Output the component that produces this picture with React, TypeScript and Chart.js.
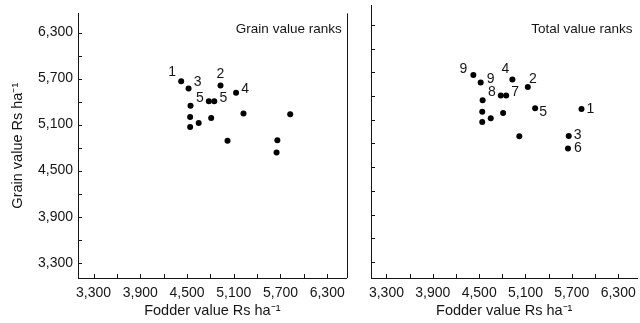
import React, { useEffect, useRef } from 'react';
import { Chart, registerables } from 'chart.js';

Chart.register(...registerables);

// ---- data ----
const fodderValue = [4425, 4520, 4930, 5130, 4780, 4850, 4545, 5225, 5825, 4540, 4810, 4650, 4540, 5020, 5660, 5650];
const grainValue = [5665, 5570, 5610, 5515, 5405, 5405, 5345, 5245, 5235, 5200, 5185, 5120, 5070, 4890, 4895, 4735];
const grainRanks = ['1', '3', '2', '4', '5', '5', '', '', '', '', '', '', '', '', '', ''];
const totalRanks = ['9', '9', '4', '2', '8', '7', '', '5', '1', '', '', '', '', '', '3', '6'];
const labelledTicks = [3300, 3900, 4500, 5100, 5700, 6300];
const tickLabels = ['3,300', '3,900', '4,500', '5,100', '5,700', '6,300'];
const minorTicks = [3300, 3600, 3900, 4200, 4500, 4800, 5100, 5400, 5700, 6000, 6300];

// label placements (offset of rank label from its point), kept apart from the values
const grainRankOffsets: [number, number][] = [
  [-9, -9], [9, -6], [0, -11], [9, -4], [-9, -3], [9, -3],
  [0, 0], [0, 0], [0, 0], [0, 0], [0, 0], [0, 0], [0, 0], [0, 0], [0, 0], [0, 0],
];
const totalRankOffsets: [number, number][] = [
  [-10, -6], [10, -3], [-7, -10], [5, -8], [-9, -3], [9, -3],
  [0, 0], [8, 4], [9, 0], [0, 0], [0, 0], [0, 0], [0, 0], [0, 0], [9, -1], [10, 0],
];

const AXIS_MIN = 3100;
const AXIS_MAX = 6550;
const FONT = '"Liberation Sans", Arial, Helvetica, sans-serif';
const INK = '#151515';

function makeConfig(opts: {
  ranks: string[];
  offsets: [number, number][];
  panelTitle: string;
  showYLabels: boolean;
  showRightBorder: boolean;
}) {
  const decorPlugin = {
    id: 'decor',
    afterDraw(chart: any) {
      const { ctx, chartArea } = chart;
      const xs = chart.scales.x;
      const ys = chart.scales.y;
      ctx.save();
      ctx.strokeStyle = INK;
      ctx.lineWidth = 1;
      // inward tick marks
      minorTicks.forEach((v) => {
        const px = Math.round(xs.getPixelForValue(v)) + 0.5;
        ctx.beginPath();
        ctx.moveTo(px, chartArea.bottom);
        ctx.lineTo(px, chartArea.bottom - 4);
        ctx.stroke();
        const py = Math.round(ys.getPixelForValue(v)) + 0.5;
        ctx.beginPath();
        ctx.moveTo(chartArea.left, py);
        ctx.lineTo(chartArea.left + 4, py);
        ctx.stroke();
      });
      if (opts.showRightBorder) {
        ctx.beginPath();
        ctx.moveTo(Math.round(chartArea.right) + 0.5, chartArea.top);
        ctx.lineTo(Math.round(chartArea.right) + 0.5, chartArea.bottom);
        ctx.stroke();
      }
      // panel title
      ctx.fillStyle = INK;
      ctx.font = `13.5px ${FONT}`;
      ctx.textAlign = 'right';
      ctx.textBaseline = 'middle';
      ctx.fillText(opts.panelTitle, chartArea.right - 5, 29);
      // rank labels
      const meta = chart.getDatasetMeta(0);
      ctx.font = `14px ${FONT}`;
      ctx.textAlign = 'center';
      meta.data.forEach((pt: any, i: number) => {
        const r = opts.ranks[i];
        if (!r) return;
        const [dx, dy] = opts.offsets[i];
        ctx.fillText(r, pt.x + dx, pt.y + dy);
      });
      ctx.restore();
    },
  };

  const tickCallback = (v: any) => {
    const idx = labelledTicks.indexOf(Number(v));
    return idx >= 0 ? tickLabels[idx] : '';
  };

  return {
    type: 'scatter' as const,
    data: {
      datasets: [
        {
          data: fodderValue.map((x, i) => ({ x, y: grainValue[i] })),
          backgroundColor: '#000',
          borderWidth: 0,
          pointRadius: 3,
        },
      ],
    },
    options: {
      responsive: false,
      animation: false as const,
      layout: { padding: { top: 5, right: opts.showRightBorder ? 3 : 2, left: 0, bottom: 0 } },
      plugins: { legend: { display: false }, tooltip: { enabled: false } },
      scales: {
        x: {
          type: 'linear' as const,
          min: AXIS_MIN,
          max: AXIS_MAX,
          afterBuildTicks: (scale: any) => {
            scale.ticks = labelledTicks.map((value) => ({ value }));
          },
          afterFit: (scale: any) => {
            scale.height = 45;
          },
          grid: { display: false, drawTicks: false },
          border: { display: true, color: INK, width: 1 },
          ticks: {
            padding: 7,
            maxRotation: 0,
            autoSkip: false,
            color: INK,
            font: { family: FONT, size: 14 },
            callback: tickCallback,
          },
          title: {
            display: true,
            text: 'Fodder value Rs ha⁻¹',
            color: INK,
            font: { family: FONT, size: 14.5 },
            padding: { top: 0, bottom: 3 },
          },
        },
        y: {
          type: 'linear' as const,
          min: AXIS_MIN,
          max: AXIS_MAX,
          afterBuildTicks: (scale: any) => {
            scale.ticks = labelledTicks.map((value) => ({ value }));
          },
          afterFit: (scale: any) => {
            scale.width = 78;
          },
          grid: { display: false, drawTicks: false },
          border: { display: true, color: INK, width: 1 },
          ticks: {
            display: opts.showYLabels,
            padding: 5,
            autoSkip: false,
            color: INK,
            font: { family: FONT, size: 14 },
            callback: tickCallback,
          },
          title: {
            display: opts.showYLabels,
            text: 'Grain value Rs ha⁻¹',
            color: INK,
            font: { family: FONT, size: 14.5 },
            padding: { top: 9, bottom: 0 },
          },
        },
      },
    },
    plugins: [decorPlugin],
  };
}

export default function App() {
  const leftRef = useRef<HTMLCanvasElement | null>(null);
  const rightRef = useRef<HTMLCanvasElement | null>(null);

  useEffect(() => {
    if (!leftRef.current || !rightRef.current) return;
    const left = new Chart(
      leftRef.current,
      makeConfig({
        ranks: grainRanks,
        offsets: grainRankOffsets,
        panelTitle: 'Grain value ranks',
        showYLabels: true,
        showRightBorder: true,
      }) as any
    );
    const right = new Chart(
      rightRef.current,
      makeConfig({
        ranks: totalRanks,
        offsets: totalRankOffsets,
        panelTitle: 'Total value ranks',
        showYLabels: false,
        showRightBorder: false,
      }) as any
    );
    return () => {
      left.destroy();
      right.destroy();
    };
  }, []);

  return (
    <div
      style={{
        position: 'fixed',
        left: 0,
        top: 0,
        width: 640,
        height: 323,
        overflow: 'hidden',
        background: '#fff',
      }}
    >
      <canvas
        ref={leftRef}
        width={352}
        height={323}
        style={{ position: 'absolute', left: 0, top: 0, width: 352, height: 323 }}
      />
      <canvas
        ref={rightRef}
        width={350}
        height={323}
        style={{ position: 'absolute', left: 293, top: 0, width: 350, height: 323 }}
      />
    </div>
  );
}
